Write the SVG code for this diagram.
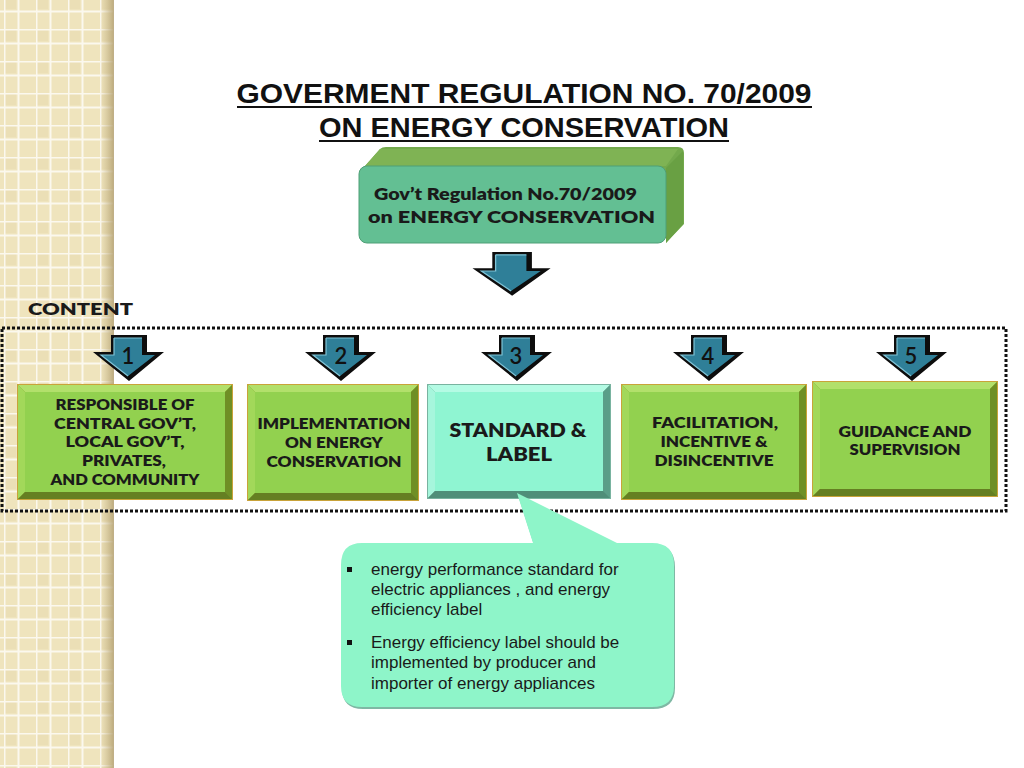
<svg xmlns="http://www.w3.org/2000/svg" width="1024" height="768" viewBox="0 0 1024 768">
<defs>
<style>
.title{font-family:"Liberation Sans",Arial,sans-serif;font-weight:bold;font-size:28px;fill:#111;}
.gill{font-family:Lato,"Open Sans",sans-serif;font-weight:800;fill:#1a1a1a;}
.box{font-size:14.5px;}
.note{font-family:"Liberation Sans",Arial,sans-serif;font-size:17px;fill:#1a1a1a;}
.num{font-family:Lato,"Open Sans",sans-serif;font-size:22px;fill:#111;font-weight:600;}
</style>
<pattern id="grid" width="32" height="32" patternUnits="userSpaceOnUse" x="4" y="-3">
<rect width="32" height="32" fill="#efe4bd"/>
<rect x="1" y="1" width="11" height="11" fill="#e8dcb0" opacity="0.6"/>
<path d="M0 0.5H32M0 14.5H32M0.5 0V32M14.5 0V32" stroke="#fbf8ee" stroke-width="2"/>
</pattern>
<linearGradient id="stripShade" x1="0" x2="1" y1="0" y2="0">
<stop offset="0" stop-color="#c9b98a" stop-opacity="0"/>
<stop offset="1" stop-color="#b5a274" stop-opacity="0.9"/>
</linearGradient>
<g id="arr">
<path d="M-17,0 H19 V17 H36 L1,46 L-35,17 H-17 Z" fill="#0d0d0d"/>
<path d="M-14,3 H14 V20 H27 L0,41 L-27,20 H-14 Z" fill="#2f7f98"/>
<path d="M-14,3 H14 M-14,3 V20 H-27 L0,41" fill="none" stroke="#7fc3d6" stroke-width="1.2"/>
</g>
</defs>

<!-- background strip -->
<rect width="1024" height="768" fill="#ffffff"/>
<rect x="0" y="0" width="113" height="768" fill="url(#grid)"/>
<rect x="100" y="0" width="14" height="768" fill="url(#stripShade)"/>

<!-- title -->
<g id="title">
<text class="title" x="524" y="103" text-anchor="middle" textLength="575" lengthAdjust="spacingAndGlyphs">GOVERMENT REGULATION NO. 70/2009</text>
<line x1="237" y1="107" x2="812" y2="107" stroke="#111" stroke-width="2"/>
<text class="title" x="524" y="137" text-anchor="middle" textLength="410" lengthAdjust="spacingAndGlyphs">ON ENERGY CONSERVATION</text>
<line x1="319" y1="141" x2="729" y2="141" stroke="#111" stroke-width="2"/>
</g>

<!-- top 3D box -->
<g id="node-top">
<path d="M365,166 L380,149 Q382,147 386,147 L678,147 Q684,147 684,153 L684,224 L666,243 L666,172 Z" fill="#73a94c"/>
<path d="M380,149 L678,149 L666,166 L365,166 Z" fill="#7fb354"/>
<path d="M666,168 L683,151 L683,224 L666,243 Z" fill="#69a043"/>
<rect x="359" y="166" width="307" height="77" rx="8" fill="#63bf93" stroke="#4f9f76" stroke-width="1"/>
<text class="gill" x="374" y="200" font-size="17.5" textLength="263" lengthAdjust="spacingAndGlyphs">Gov’t Regulation No.70/2009</text>
<text class="gill" x="368" y="223" font-size="17.5" textLength="287" lengthAdjust="spacingAndGlyphs">on ENERGY CONSERVATION</text>
</g>

<!-- main arrow -->
<g id="arrow-main">
<use href="#arr" transform="translate(511,252) scale(1.1,0.95)"/>
</g>

<!-- content label -->
<text id="content-label" class="gill" x="28" y="315" font-size="17" textLength="105" lengthAdjust="spacingAndGlyphs">CONTENT</text>

<!-- dotted frame -->
<g id="connectors">
<rect x="2" y="328" width="1004" height="183" fill="none" stroke="#111" stroke-width="3" stroke-dasharray="3,2"/>
<use href="#arr" transform="translate(128,335)"/>
<use href="#arr" transform="translate(340,335)"/>
<use href="#arr" transform="translate(516,335)"/>
<use href="#arr" transform="translate(708,335)"/>
<use href="#arr" transform="translate(911,335)"/>
<text class="num" x="128" y="364" text-anchor="middle">1</text>
<text class="num" x="341" y="364" text-anchor="middle">2</text>
<text class="num" x="516" y="364" text-anchor="middle">3</text>
<text class="num" x="708" y="364" text-anchor="middle">4</text>
<text class="num" x="911" y="364" text-anchor="middle">5</text>
</g>

<!-- box 1 -->
<g id="node-1">
<rect x="17" y="384" width="216" height="116" fill="#c9a33a"/>
<rect x="18" y="385" width="214" height="114" fill="#7e9d2c"/>
<polygon points="18,385 232,385 225,392 25,392" fill="#b2e06b"/>
<polygon points="18,385 25,392 25,492 18,499" fill="#a2d85a"/>
<polygon points="232,385 232,499 225,492 225,392" fill="#6f8f25"/>
<polygon points="18,499 232,499 225,492 25,492" fill="#657f22"/>
<rect x="25" y="392" width="200" height="100" fill="#92d14f"/>
<g class="gill box" text-anchor="middle">
<text x="125" y="410" textLength="139" lengthAdjust="spacingAndGlyphs">RESPONSIBLE OF</text>
<text x="125" y="429" textLength="142" lengthAdjust="spacingAndGlyphs">CENTRAL GOV’T,</text>
<text x="125" y="447" textLength="119" lengthAdjust="spacingAndGlyphs">LOCAL GOV’T,</text>
<text x="124" y="466" textLength="84" lengthAdjust="spacingAndGlyphs">PRIVATES,</text>
<text x="125" y="485" textLength="149" lengthAdjust="spacingAndGlyphs">AND COMMUNITY</text>
</g>
</g>

<!-- box 2 -->
<g id="node-2">
<rect x="247" y="384" width="172" height="117" fill="#c9a33a"/>
<rect x="248" y="385" width="170" height="115" fill="#7e9d2c"/>
<polygon points="248,385 418,385 411,392 255,392" fill="#b2e06b"/>
<polygon points="248,385 255,392 255,493 248,500" fill="#a2d85a"/>
<polygon points="418,385 418,500 411,493 411,392" fill="#6f8f25"/>
<polygon points="248,500 418,500 411,493 255,493" fill="#657f22"/>
<rect x="255" y="392" width="156" height="101" fill="#92d14f"/>
<g class="gill box" text-anchor="middle">
<text x="334" y="429" textLength="153" lengthAdjust="spacingAndGlyphs">IMPLEMENTATION</text>
<text x="334" y="448" textLength="98" lengthAdjust="spacingAndGlyphs">ON ENERGY</text>
<text x="334" y="467" textLength="135" lengthAdjust="spacingAndGlyphs">CONSERVATION</text>
</g>
</g>

<!-- box 3 -->
<g id="node-3">
<rect x="427" y="384" width="184" height="115" fill="#79b3a0"/>
<rect x="428" y="385" width="182" height="113" fill="#5fa58e"/>
<polygon points="428,385 610,385 603,392 435,392" fill="#b4fbe4"/>
<polygon points="428,385 435,392 435,491 428,498" fill="#a6f6dc"/>
<polygon points="610,385 610,498 603,491 603,392" fill="#5a9e88"/>
<polygon points="428,498 610,498 603,491 435,491" fill="#4f8e79"/>
<rect x="435" y="392" width="168" height="99" fill="#8ff5d2"/>
<g class="gill" text-anchor="middle" font-size="18.5">
<text x="518" y="437" textLength="137" lengthAdjust="spacingAndGlyphs">STANDARD &amp;</text>
<text x="519" y="461" textLength="66" lengthAdjust="spacingAndGlyphs">LABEL</text>
</g>
</g>

<!-- box 4 -->
<g id="node-4">
<rect x="621" y="384" width="186" height="116" fill="#c9a33a"/>
<rect x="622" y="385" width="184" height="114" fill="#7e9d2c"/>
<polygon points="622,385 806,385 799,392 629,392" fill="#b2e06b"/>
<polygon points="622,385 629,392 629,492 622,499" fill="#a2d85a"/>
<polygon points="806,385 806,499 799,492 799,392" fill="#6f8f25"/>
<polygon points="622,499 806,499 799,492 629,492" fill="#657f22"/>
<rect x="629" y="392" width="170" height="100" fill="#92d14f"/>
<g class="gill box" text-anchor="middle">
<text x="715" y="428" textLength="126" lengthAdjust="spacingAndGlyphs">FACILITATION,</text>
<text x="714" y="447" textLength="107" lengthAdjust="spacingAndGlyphs">INCENTIVE &amp;</text>
<text x="714" y="466" textLength="119" lengthAdjust="spacingAndGlyphs">DISINCENTIVE</text>
</g>
</g>

<!-- box 5 -->
<g id="node-5">
<rect x="812" y="381" width="186" height="116" fill="#c9a33a"/>
<rect x="813" y="382" width="184" height="114" fill="#7e9d2c"/>
<polygon points="813,382 997,382 990,389 820,389" fill="#b2e06b"/>
<polygon points="813,382 820,389 820,489 813,496" fill="#a2d85a"/>
<polygon points="997,382 997,496 990,489 990,389" fill="#6f8f25"/>
<polygon points="813,496 997,496 990,489 820,489" fill="#657f22"/>
<rect x="820" y="389" width="170" height="100" fill="#92d14f"/>
<g class="gill box" text-anchor="middle">
<text x="905" y="437" textLength="133" lengthAdjust="spacingAndGlyphs">GUIDANCE AND</text>
<text x="905" y="455" textLength="111" lengthAdjust="spacingAndGlyphs">SUPERVISION</text>
</g>
</g>

<!-- callout -->
<g id="callout">
<path d="M362,543 L533,543 L517,493 L617,543 L652,543 Q674,543 674,565 L674,686 Q674,707 652,707 L362,707 Q341,707 341,686 L341,565 Q341,543 362,543 Z" fill="#7fb8a4" transform="translate(1,2)"/>
<path d="M362,543 L533,543 L517,493 L617,543 L652,543 Q674,543 674,565 L674,686 Q674,707 652,707 L362,707 Q341,707 341,686 L341,565 Q341,543 362,543 Z" fill="#8ef5c9"/>
<rect x="347" y="567" width="5" height="5" fill="#111"/>
<rect x="347" y="640" width="5" height="5" fill="#111"/>
<g class="note">
<text x="371" y="575">energy performance standard for</text>
<text x="371" y="595">electric appliances , and energy</text>
<text x="371" y="615">efficiency label</text>
<text x="371" y="648">Energy efficiency label should be</text>
<text x="371" y="668">implemented by producer and</text>
<text x="371" y="689">importer of energy appliances</text>
</g>
</g>
</svg>
